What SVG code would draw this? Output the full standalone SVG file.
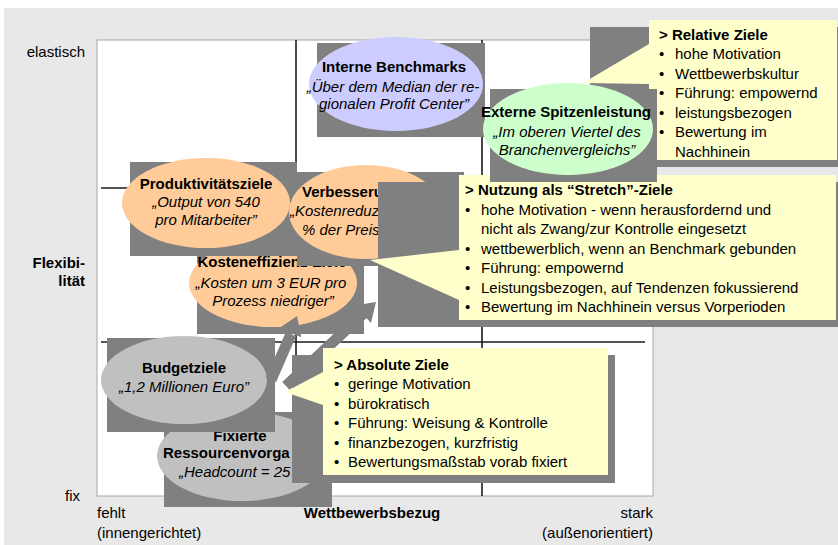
<svg xmlns="http://www.w3.org/2000/svg" width="838" height="545" viewBox="0 0 838 545">
<style>
.t{font-family:"Liberation Sans",Arial,sans-serif;font-size:15px;fill:#000}
.b{font-weight:bold}
.i{font-style:italic}
.m{text-anchor:middle}
.e{text-anchor:end}
.sh{fill:#808080}
.yb{fill:#FFFFCC}
.grid{stroke:#1a1a1a;stroke-width:1.6;fill:none}
.arr{stroke:#808080;stroke-width:11;fill:none}
</style>
<rect x="4" y="8" width="834" height="537" fill="#E8E8E8"/>
<g id="axis-labels">
<text class="t e" x="85" y="57">elastisch</text>
<text class="t b e" x="85" y="268">Flexibi-</text>
<text class="t b e" x="85" y="286">lität</text>
<text class="t e" x="80" y="501">fix</text>
<text class="t" x="97" y="518">fehlt</text>
<text class="t" x="97" y="538">(innengerichtet)</text>
<text class="t b m" x="372" y="518">Wettbewerbsbezug</text>
<text class="t e" x="653" y="518">stark</text>
<text class="t e" x="653" y="538">(außenorientiert)</text>
</g>
<rect id="plot" x="97" y="40" width="556" height="456" fill="#FFFFFF" stroke="#A6A6A6" stroke-width="1"/>
<g id="grid">
<line class="grid" x1="296" y1="40" x2="296" y2="496"/>
<line class="grid" x1="482" y1="40" x2="482" y2="496"/>
<line class="grid" x1="101" y1="188" x2="645" y2="188"/>
<line class="grid" x1="101" y1="342" x2="645" y2="342"/>
</g>
<g id="interne-benchmarks">
<rect class="sh" x="317" y="43" width="168" height="94"/>
<ellipse cx="396" cy="84" rx="87" ry="47" fill="#CCCCFF"/>
<text class="t b m" x="394" y="72">Interne Benchmarks</text>
<text class="t i m" x="393" y="92">„Über dem Median der re-</text>
<text class="t i m" x="394" y="109">gionalen Profit Center”</text>
</g>
<g id="kosteneffizienz-ziele">
<rect class="sh" x="197" y="250" width="167" height="84"/>
<ellipse cx="273" cy="283" rx="84" ry="44" fill="#FFCC99"/>
<text class="t b m" x="272" y="267">Kosteneffizienz-Ziele</text>
<text class="t i m" x="271" y="288">„Kosten um 3 EUR pro</text>
<text class="t i m" x="273" y="306">Prozess niedriger”</text>
</g>
<g id="produktivitaetsziele">
<rect class="sh" x="130" y="162" width="167" height="94"/>
<ellipse cx="206" cy="203" rx="84" ry="45" fill="#FFCC99"/>
<text class="t b m" x="206" y="189">Produktivitätsziele</text>
<text class="t i m" x="206" y="207">„Output von 540</text>
<text class="t i m" x="206" y="225">pro Mitarbeiter”</text>
</g>
<g id="verbesserungsziele">
<rect class="sh" x="297" y="172" width="167" height="94"/>
<ellipse cx="366" cy="212" rx="77" ry="47" fill="#FFCC99"/>
<text class="t b" x="302" y="197">Verbesseru</text>
<text class="t i" x="290" y="216">„Kostenreduz</text>
<text class="t i" x="302" y="235">% der Preis</text>
</g>
<g id="stretch-ziele">
<rect class="sh" x="378" y="182" width="460" height="145"/>
<rect class="yb" x="459" y="175" width="377" height="145"/>
<polygon class="yb" points="459,250 370,260 459,300"/>
<text class="t b" x="465" y="195">&gt; Nutzung als “Stretch”-Ziele</text>
<text class="t" x="465" y="215">•</text><text class="t" x="481" y="215">hohe Motivation - wenn herausfordernd und</text>
<text class="t" x="481" y="234">nicht als Zwang/zur Kontrolle eingesetzt</text>
<text class="t" x="465" y="254">•</text><text class="t" x="481" y="254">wettbewerblich, wenn an Benchmark gebunden</text>
<text class="t" x="465" y="273">•</text><text class="t" x="481" y="273">Führung: empowernd</text>
<text class="t" x="465" y="293">•</text><text class="t" x="481" y="293">Leistungsbezogen, auf Tendenzen fokussierend</text>
<text class="t" x="465" y="312">•</text><text class="t" x="481" y="312">Bewertung im Nachhinein versus Vorperioden</text>
</g>
<g id="relative-ziele">
<rect class="sh" x="590" y="27" width="248" height="140"/>
<rect class="yb" x="649" y="20" width="188" height="140"/>
<polygon class="yb" points="649,44 583,83 649,84"/>
<text class="t b" x="659" y="39.5">&gt; Relative Ziele</text>
<text class="t" x="659" y="59">•</text><text class="t" x="675" y="59">hohe Motivation</text>
<text class="t" x="659" y="78.5">•</text><text class="t" x="675" y="78.5">Wettbewerbskultur</text>
<text class="t" x="659" y="98">•</text><text class="t" x="675" y="98">Führung: empowernd</text>
<text class="t" x="659" y="117.5">•</text><text class="t" x="675" y="117.5">leistungsbezogen</text>
<text class="t" x="659" y="137">•</text><text class="t" x="675" y="137">Bewertung im</text>
<text class="t" x="675" y="156.5">Nachhinein</text>
</g>
<g id="externe-spitzenleistung">
<rect class="sh" x="490" y="89" width="167" height="93"/>
<ellipse cx="568" cy="129" rx="85" ry="46" fill="#CCFFCC"/>
<text class="t b m" x="566" y="117">Externe Spitzenleistung</text>
<text class="t i m" x="567" y="137">„Im oberen Viertel des</text>
<text class="t i m" x="567" y="155">Branchenvergleichs”</text>
</g>
<g id="fixierte-ressourcenvorgaben">
<rect class="sh" x="164" y="412" width="168" height="95"/>
<ellipse cx="242" cy="456" rx="85" ry="45" fill="#C0C0C0"/>
<text class="t b m" x="240" y="441">Fixierte</text>
<text class="t b" x="163" y="458">Ressourcenvorga</text>
<text class="t i" x="179" y="477">„Headcount = 25</text>
</g>
<g id="budgetziele">
<rect class="sh" x="107" y="338" width="168" height="94"/>
<ellipse cx="184" cy="380" rx="83" ry="44" fill="#C0C0C0"/>
<text class="t b m" x="184" y="373">Budgetziele</text>
<text class="t i m" x="184" y="392">„1,2 Millionen Euro”</text>
</g>
<g id="connectors">
<line class="arr" x1="271" y1="380" x2="291" y2="334"/>
<polygon class="sh" points="297,316 301.3,337.2 279.1,328.2"/>
<line class="arr" x1="286" y1="386" x2="364" y2="313"/>
<polygon class="sh" points="376,302 371,323.1 354.6,305.5"/>
</g>
<g id="absolute-ziele">
<rect class="sh" x="292" y="355" width="323" height="128"/>
<rect class="yb" x="323" y="348" width="285" height="127"/>
<polygon class="yb" points="323,372 285,392 323,405"/>
<text class="t b" x="334" y="369.5">&gt; Absolute Ziele</text>
<text class="t" x="334" y="389">•</text><text class="t" x="348" y="389">geringe Motivation</text>
<text class="t" x="334" y="408.5">•</text><text class="t" x="348" y="408.5">bürokratisch</text>
<text class="t" x="334" y="428">•</text><text class="t" x="348" y="428">Führung: Weisung &amp; Kontrolle</text>
<text class="t" x="334" y="447.5">•</text><text class="t" x="348" y="447.5">finanzbezogen, kurzfristig</text>
<text class="t" x="334" y="467">•</text><text class="t" x="348" y="467">Bewertungsmaßstab vorab fixiert</text>
</g>
</svg>
